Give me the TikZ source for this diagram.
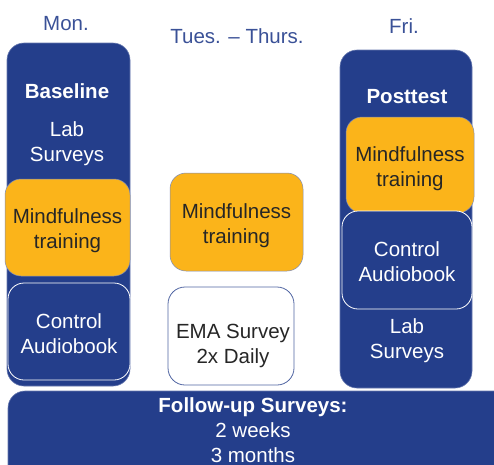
\documentclass[tikz,border=0pt]{standalone}
\usepackage{fontspec}
\setmainfont{Liberation Sans}
\usepackage{tikz}

\definecolor{navy}{RGB}{36,62,139}
\definecolor{amber}{RGB}{251,180,26}
\definecolor{ink}{RGB}{38,38,38}

\begin{document}
\begin{tikzpicture}[x=1pt, y=-1pt,
  every node/.style={font=\fontsize{20.5}{25}\selectfont, align=center, inner sep=0pt},
  day/.style={text=navy!90!white},
  column/.style={rectangle, rounded corners=17pt, fill=navy, draw=navy!70!white, line width=0.6pt},
  mind/.style={rectangle, rounded corners=16pt, fill=amber, draw=navy!60!white, line width=0.5pt},
  ctrl/.style={rectangle, rounded corners=16pt, fill=navy, draw=white, line width=0.8pt},
  ema/.style={rectangle, rounded corners=17pt, fill=white, draw=navy!80!white, line width=0.8pt},
  light/.style={text=white},
  dark/.style={text=ink}]
\clip (0,0) rectangle (494,464);

\node[day] (mon) at (66, 24) {Mon.};
\node[day] (tues) at (237, 36) {Tues. -- Thurs.};
\node[day] (fri) at (404, 26) {Fri.};

% Monday
\node[column, minimum width=123pt, minimum height=343pt] (monbox) at (68.5, 214.5) {};
\node[light, font=\fontsize{20.5}{25}\selectfont\bfseries] (base) at (67, 91) {Baseline};
\node[light] (monlab) at (67, 143.5) {Lab\\Surveys};
\node[mind, minimum width=125pt, minimum height=97pt] (monmind) at (67.5, 227.5) {};
\node[dark] at (67.5, 231) {Mindfulness\\training};
\node[ctrl, minimum width=122pt, minimum height=97pt] (monctrl) at (69, 331.5) {};
\node[light] at (69, 333.5) {Control\\Audiobook};

% Tuesday - Thursday
\node[mind, minimum width=133pt, minimum height=98pt] (midmind) at (236.5, 222) {};
\node[dark] at (236.5, 226) {Mindfulness\\training};
\node[ema, minimum width=126pt, minimum height=98pt] (emabox) at (231, 336) {};
\node[dark] at (233, 346) {EMA Survey\\2x Daily};

% Friday
\node[column, minimum width=132pt, minimum height=338pt] (fribox) at (406, 219) {};
\node[light, font=\fontsize{20.5}{25}\selectfont\bfseries] (post) at (407, 97) {Posttest};
\node[mind, minimum width=128pt, minimum height=96pt] (frimind) at (410, 165) {};
\node[dark] at (410, 169) {Mindfulness\\training};
\node[ctrl, minimum width=130pt, minimum height=98pt] (frictrl) at (407, 260) {};
\node[light] at (407, 262) {Control\\Audiobook};
\node[light] (frilab) at (407, 340.5) {Lab\\Surveys};

% follow-up
\node[column, minimum width=510pt, minimum height=100pt] (follow) at (263, 441) {};
\node[light] (followtxt) at (253, 430.5) {\textbf{Follow-up Surveys:}\\2 weeks\\3 months};
\end{tikzpicture}
\end{document}
